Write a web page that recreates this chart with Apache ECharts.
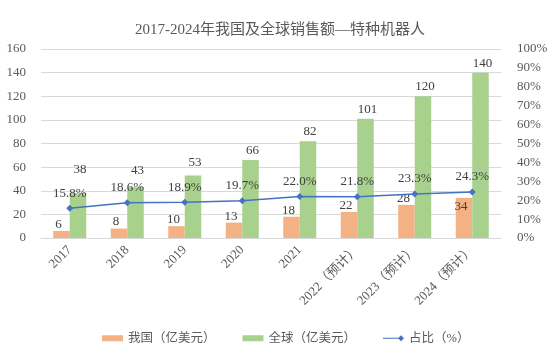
<!DOCTYPE html>
<html lang="zh">
  <head>
    <meta charset="UTF-8" />
    <title>2017-2024年我国及全球销售额—特种机器人</title>
    <script src="https://cdn.jsdelivr.net/npm/echarts@6/dist/echarts.min.js"></script>
    <style>
      html, body { margin: 0; padding: 0; background: #fff; }
      #main { width: 558px; height: 354px; }
    </style>
  </head>
  <body>
    <div id="main"></div>

    <script>
      const years = [
        '2017', '2018', '2019', '2020', '2021',
        '2022（预计）', '2023（预计）', '2024（预计）',
      ];
      const china = [6, 8, 10, 13, 18, 22, 28, 34];
      const world = [38, 43, 53, 66, 82, 101, 120, 140];
      const share = [15.8, 18.6, 18.9, 19.7, 22.0, 21.8, 23.3, 24.3];

      const serif = '"Liberation Serif", "Times New Roman", "Noto Sans CJK SC", serif';
      const textColor = '#595959';
      const labelColor = '#404040';
      const gridColor = '#d9d9d9';

      // Excel moved a few labels so they clear the percent labels
      const worldLabelLift = { 0: 14, 1: 7, 2: 3 };
      const chinaLabelDrop = { 7: 15 };

      const options = {
        animation: false,
        title: {
          text: '2017-2024年我国及全球销售额—特种机器人',
          left: 275,
          textAlign: 'center',
          top: 18,
          textStyle: {
            fontFamily: serif,
            fontSize: 15,
            fontWeight: 'normal',
            color: textColor,
          },
        },
        grid: { left: 41, right: 57, top: 49, bottom: 116 },
        legend: {
          left: 97,
          top: 327,
          itemWidth: 21,
          itemHeight: 6,
          itemGap: 27,
          textStyle: { fontFamily: serif, fontSize: 12.5, color: textColor },
          data: [
            { name: '我国（亿美元）', icon: 'rect' },
            { name: '全球（亿美元）', icon: 'rect' },
            {
              name: '占比（%）',
              icon: 'path://M0,4.4 L20,4.4 L20,5.6 L0,5.6 Z M21,1.5 L24.5,5 L21,8.5 L17.5,5 Z',
            },
          ],
        },
        xAxis: {
          type: 'category',
          data: years,
          axisTick: { show: false },
          axisLine: { lineStyle: { color: gridColor } },
          axisLabel: {
            rotate: 45,
            margin: 10,
            interval: 0,
            fontFamily: serif,
            fontSize: 13,
            color: textColor,
          },
        },
        yAxis: [
          {
            type: 'value',
            min: 0,
            max: 160,
            interval: 20,
            axisLine: { show: false },
            axisTick: { show: false },
            splitLine: { lineStyle: { color: gridColor } },
            axisLabel: { fontFamily: serif, fontSize: 13, color: textColor, margin: 15 },
          },
          {
            type: 'value',
            min: 0,
            max: 100,
            interval: 10,
            axisLine: { show: false },
            axisTick: { show: false },
            splitLine: { show: false },
            axisLabel: {
              fontFamily: serif,
              fontSize: 13,
              color: textColor,
              margin: 16,
              formatter: '{value}%',
            },
          },
        ],
        series: [
          {
            name: '我国（亿美元）',
            type: 'bar',
            data: china.map((v, i) =>
              chinaLabelDrop[i]
                ? { value: v, label: { offset: [-3, chinaLabelDrop[i]] } }
                : v
            ),
            barWidth: 16.5,
            barGap: '0%',
            itemStyle: { color: '#F4B183' },
            label: {
              show: true,
              position: 'top',
              distance: 0,
              offset: [-3, 0],
              fontFamily: serif,
              fontSize: 13,
              color: labelColor,
            },
          },
          {
            name: '全球（亿美元）',
            type: 'bar',
            data: world.map((v, i) =>
              worldLabelLift[i]
                ? { value: v, label: { offset: [2, -worldLabelLift[i]] } }
                : v
            ),
            barWidth: 16.5,
            itemStyle: { color: '#A9D18E' },
            label: {
              show: true,
              position: 'top',
              distance: 3,
              offset: [2, 0],
              fontFamily: serif,
              fontSize: 13,
              color: labelColor,
            },
          },
          {
            name: '占比（%）',
            type: 'line',
            yAxisIndex: 1,
            data: share,
            symbol: 'diamond',
            symbolSize: 7,
            lineStyle: { color: '#4472C4', width: 1.5 },
            itemStyle: { color: '#4472C4' },
            label: {
              show: true,
              position: 'top',
              distance: 5,
              fontFamily: serif,
              fontSize: 13,
              color: labelColor,
              formatter: (p) => p.value.toFixed(1) + '%',
            },
          },
        ],
      };

      const myChart = echarts.init(document.getElementById('main'));
      myChart.setOption(options);
    </script>
  </body>
</html>
